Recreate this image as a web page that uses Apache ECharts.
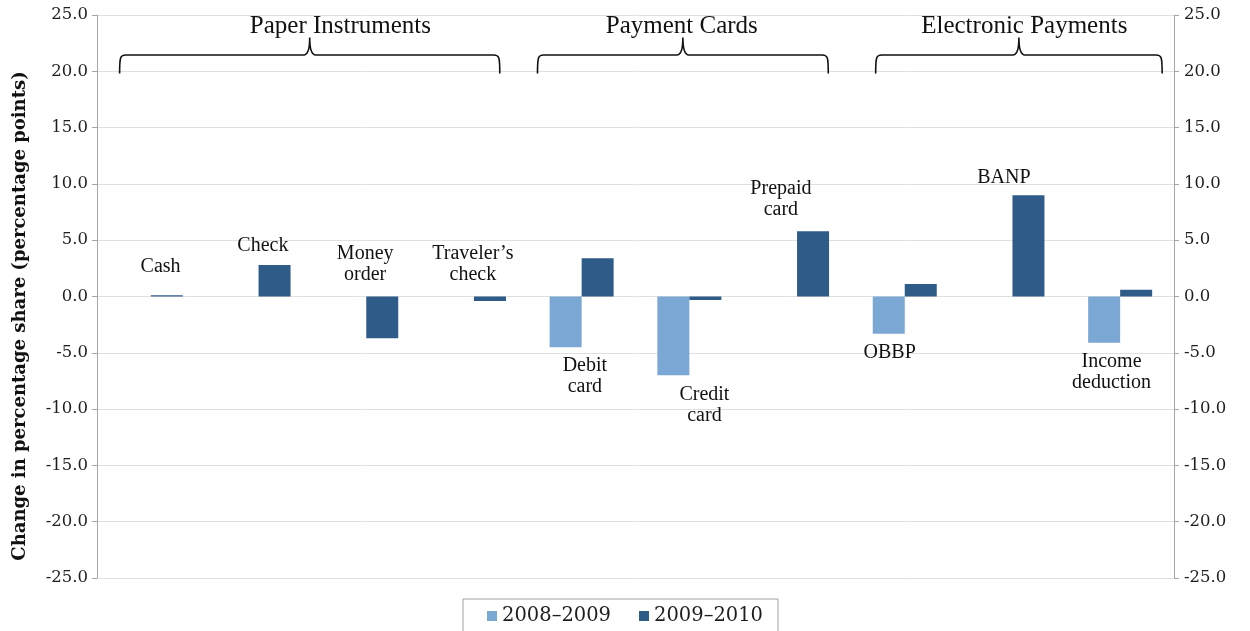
<!DOCTYPE html>
<html><head><meta charset="utf-8">
<script src="https://cdn.jsdelivr.net/npm/echarts@6/dist/echarts.min.js"></script>
<style>html,body{margin:0;padding:0;background:#fff}#c{width:1250px;height:631px}</style>
</head><body><div id="c"></div>
<script>
// ---- data ----
const categories = ['Cash','Check','Money order',"Traveler’s check",'Debit card','Credit card','Prepaid card','OBBP','BANP','Income deduction'];
const seriesNames = ['2008–2009','2009–2010'];
const values0809 = [0, 0, 0, 0, -4.5, -7.0, 0, -3.3, 0, -4.1];
const values0910 = [0.1, 2.8, -3.7, -0.4, 3.4, -0.3, 5.8, 1.1, 9.0, 0.6];
const yTicks = {min: -25, max: 25, interval: 5};
const groupNames = ['Paper Instruments','Payment Cards','Electronic Payments'];
const groupFirst = [0, 4, 7];
const groupLast = [3, 6, 9];

// ---- annotation layout (category units / value units) ----
const labelText = ['Cash','Check','Money\norder','Traveler’s\ncheck','Debit\ncard','Credit\ncard','Prepaid\ncard','OBBP','BANP','Income\ndeduction'];
const labelAt = [[0.09,2.65],[1.04,4.5],[1.99,2.85],[2.99,2.85],[4.03,-7.06],[5.14,-9.7],[5.85,8.67],[6.86,-4.97],[7.92,10.56],[8.92,-6.7]];
const braceFrom = [-0.29, 3.59, 6.73];
const braceTo = [3.24, 6.29, 9.39];
const groupLabelX = [1.76, 4.93, 8.11];

const SERIF = '"Liberation Serif", "DejaVu Serif", serif';
const TICKF = '"DejaVu Serif", serif';

const chart = echarts.init(document.getElementById('c'), null, {renderer: 'canvas'});

const braceData = groupNames.map((g, i) => [braceFrom[i], braceTo[i], groupLabelX[i], i]);
const labelData = labelAt.map((p, i) => [p[0], p[1], i]);

function yAxisCfg(pos, margin) {
  return {
    type: 'value', position: pos, min: yTicks.min, max: yTicks.max, interval: yTicks.interval,
    axisLine: {show: true, onZero: false, lineStyle: {color: '#a6a6a6', width: 1}},
    axisTick: {show: true, inside: false, length: 5, lineStyle: {color: '#a6a6a6'}},
    axisLabel: {formatter: v => v.toFixed(1), fontFamily: TICKF, fontSize: 16.5, color: '#1e1e1e', margin: margin},
    splitLine: {show: pos === 'left', lineStyle: {color: '#e0e0e0', width: 1}}
  };
}

chart.setOption({
  animation: false,
  backgroundColor: '#fff',
  grid: {left: 97, right: 76, top: 15, bottom: 53},
  legend: {
    data: seriesNames, left: 463, top: 599,
    borderColor: '#a0a0a0', borderWidth: 1, padding: [7, 15, 12, 24],
    itemWidth: 10, itemHeight: 10, itemGap: 28, icon: 'rect',
    textStyle: {fontFamily: TICKF, fontSize: 19.5, color: '#1e1e1e'}
  },
  xAxis: [
    {type: 'category', data: categories, axisLine: {show: false}, axisTick: {show: false}, axisLabel: {show: false}, splitLine: {show: false}},
    {type: 'value', min: -0.5, max: 9.5, show: false}
  ],
  yAxis: [yAxisCfg('left', 9), yAxisCfg('right', 10)],
  graphic: [{
    type: 'text', x: 20, y: 316, rotation: Math.PI / 2,
    style: {text: 'Change in percentage share (percentage points)', font: 'bold 18px "DejaVu Serif", serif', fill: '#111', align: 'center', verticalAlign: 'middle'}
  }],
  series: [
    {name: seriesNames[0], type: 'bar', data: values0809, barWidth: 32, barGap: '0%', itemStyle: {color: '#7ba7d4'}},
    {name: seriesNames[1], type: 'bar', data: values0910, barWidth: 32, barGap: '0%', itemStyle: {color: '#2f5b88'}},
    {
      type: 'custom', xAxisIndex: 1, yAxisIndex: 0, silent: true, data: braceData,
      renderItem: function (params, api) {
        const i = api.value(3);
        const pL = api.coord([api.value(0), 19.8]);
        const pR = api.coord([api.value(1), 19.8]);
        const yBar = api.coord([0, 21.45])[1];
        const yPeak = api.coord([0, 23.0])[1];
        const xm = (pL[0] + pR[0]) / 2;
        const r = 6;
        const d = `M${pL[0]},${pL[1]} Q${pL[0]},${yBar + r} ${pL[0] + 1},${yBar + 3} Q${pL[0] + 2},${yBar} ${pL[0] + r},${yBar} L${xm - r},${yBar} Q${xm},${yBar} ${xm},${yPeak} Q${xm},${yBar} ${xm + r},${yBar} L${pR[0] - r},${yBar} Q${pR[0] - 2},${yBar} ${pR[0] - 1},${yBar + 3} Q${pR[0]},${yBar + r} ${pR[0]},${pR[1]}`;
        const tp = api.coord([api.value(2), 24.0]);
        return {
          type: 'group',
          children: [
            {type: 'path', shape: {pathData: d}, style: {stroke: '#111', lineWidth: 1.6, fill: null}},
            {type: 'text', x: tp[0], y: tp[1], style: {text: groupNames[i], font: '25px ' + SERIF, fill: '#111', align: 'center', verticalAlign: 'middle'}}
          ]
        };
      }
    },
    {
      type: 'custom', xAxisIndex: 1, yAxisIndex: 0, silent: true, data: labelData,
      renderItem: function (params, api) {
        const p = api.coord([api.value(0), api.value(1)]);
        return {
          type: 'text', x: p[0], y: p[1],
          style: {text: labelText[api.value(2)], font: '20px ' + SERIF, fill: '#111', align: 'center', verticalAlign: 'middle', lineHeight: 21}
        };
      }
    }
  ]
});
</script></body></html>
